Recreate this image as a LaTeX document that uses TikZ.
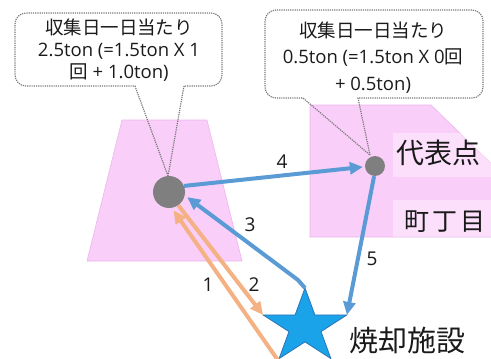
\documentclass[tikz,border=0pt]{standalone}
\usepackage{fontspec}
\setmainfont{Noto Sans CJK JP}
\newfontfamily\latinf{Open Sans}
\usetikzlibrary{arrows.meta}
\definecolor{areapink}{HTML}{F9CEF9}
\definecolor{areaedge}{HTML}{EDB5ED}
\definecolor{bubblegray}{HTML}{7A7A7A}
\definecolor{arrblue}{HTML}{5B9BD5}
\definecolor{arrorange}{HTML}{F4B183}
\definecolor{starblue}{HTML}{1AA3E8}
\definecolor{staredge}{HTML}{2E75B6}
\definecolor{dotgray}{HTML}{7F7F7F}
\definecolor{inkblack}{HTML}{1A1A1A}
\begin{document}
\begin{tikzpicture}[x=1pt,y=-1pt,
  pinkarea/.style={fill=areapink, draw=areaedge, line width=0.6pt},
  labelbg/.style={fill=white, fill opacity=0.35, draw=none},
  bubble/.style={draw=bubblegray, line width=1.2pt, dash pattern=on 1.2pt off 1pt},
  calltextL/.style={font=\fontsize{18.5}{22}\selectfont, align=center, inner sep=0pt, text=inkblack},
  calltextR/.style={font=\fontsize{18.5}{26.5}\selectfont, align=center, inner sep=0pt, text=inkblack},
  bigtext/.style={font=\fontsize{#1}{#1}\selectfont, inner sep=0pt, text=inkblack},
  numlabel/.style={font=\latinf\fontsize{19}{19}\selectfont, inner sep=0pt, text=inkblack},
  dot/.style={circle, fill=dotgray, draw=none, inner sep=0pt, minimum size=#1},
  orangearrow/.style={draw=arrorange, line width=4pt, -{Triangle[length=13pt,width=12pt]}},
  bluearrow/.style={draw=arrblue, line width=4pt, -{Triangle[length=13pt,width=12pt]}},
  starshape/.style={fill=starblue, draw=staredge, line width=0.8pt, line join=miter}
]
\useasboundingbox (0,0) rectangle (491,359);
\clip (0,0) rectangle (491,359);

% areas
\draw[pinkarea] (122,120) -- (207,120) -- (242,261) -- (87,261) -- cycle;
\draw[pinkarea] (310,105) -- (431,105) -- (500,172) -- (500,237) -- (310,237) -- cycle;
\fill[labelbg] (393,133) rectangle (491,177);
\fill[labelbg] (393,200) rectangle (491,237);

% points
\node[dot=32pt] (big) at (169,192) {};
\node[dot=20pt] (small) at (375,166) {};

% callouts
\draw[bubble] (168,176) -- (184,86) -- (205,86) [rounded corners=11pt] -- (222,86) -- (222,13) -- (15,13) -- (15,86) -- (40,86) [sharp corners] -- (135,86) -- cycle;
\node[calltextL] (lcall) at (119,50) {収集日一日当たり\\{\latinf 2.5ton (=1.5ton X 1}\\回{\latinf{} + 1.0ton)}};

\draw[bubble] (370,155) -- (358,98) -- (440,98) [rounded corners=11pt] -- (483,98) -- (483,10) -- (265,10) -- (265,98) -- (290,98) [sharp corners] -- (303,98) -- cycle;
\node[calltextR] (rcall) at (373,57.5) {収集日一日当たり\\{\latinf 0.5ton (=1.5ton X 0}回\\{\latinf + 0.5ton)}};

% star
\begin{scope}[shift={(305,327)}, xscale=1.13, yscale=-1]
  \draw[starshape] (90:39) -- (126:14.9) -- (162:39) -- (198:14.9) -- (234:39) -- (270:14.9) -- (306:39) -- (342:14.9) -- (18:39) -- (54:14.9) -- cycle;
  \coordinate (stTop) at (90:39);
  \coordinate (stL) at (162:39);
  \coordinate (stR) at (18:39);
\end{scope}
\coordinate (a1s) at (282,366);

% arrows
\draw[orangearrow, shorten >=3pt] (a1s) -- (big.-80);
\draw[orangearrow] (big.-55) -- (stL);
\draw[bluearrow, shorten >=3pt] (stTop) -- ++(-7,-8) -- (big.-12);
\draw[bluearrow, shorten >=2pt] (big.22) -- (small.184);
\draw[bluearrow] (small.-95) -- (stR);

% number labels
\node[numlabel] (n1) at (208,285) {1};
\node[numlabel] (n2) at (254,285) {2};
\node[numlabel] (n3) at (250,225) {3};
\node[numlabel] (n4) at (282,162) {4};
\node[numlabel] (n5) at (372,259) {5};

% big labels
\node[bigtext=28] (rep) at (438,153) {代表点};
\node[bigtext=25] (town) at (445,222) {町\hspace{3pt}丁\hspace{3pt}目};
\node[bigtext=29] (inc) at (407,340) {焼却施設};
\end{tikzpicture}
\end{document}
